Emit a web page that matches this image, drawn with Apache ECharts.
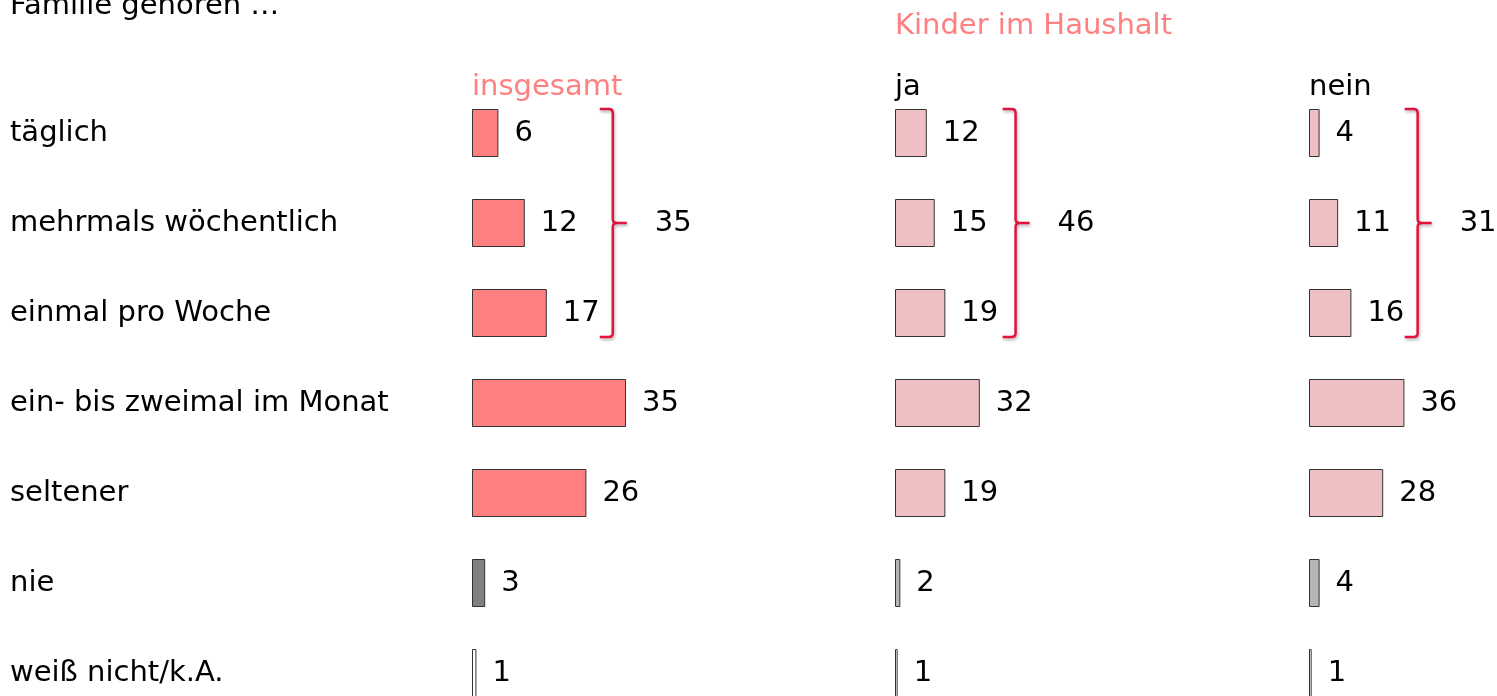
<!DOCTYPE html>
<html>
<head>
<meta charset="utf-8">
<script src="https://cdn.jsdelivr.net/npm/echarts@6/dist/echarts.min.js"></script>
<style>
  html, body { margin: 0; padding: 0; background: #fff; }
  #main { width: 1497px; height: 696px; }
</style>
</head>
<body>
<div id="main"></div>
<script>
// Daten
const categories = ['täglich', 'mehrmals wöchentlich', 'einmal pro Woche', 'ein- bis zweimal im Monat', 'seltener', 'nie', 'weiß nicht/k.A.'];
const insgesamt = [6, 12, 17, 35, 26, 3, 1];
const kinderJa = [12, 15, 19, 32, 19, 2, 1];
const kinderNein = [4, 11, 16, 36, 28, 4, 1];
const panelTitles = ['insgesamt', 'ja', 'nein'];
const bracketSums = [35, 46, 31];

const FONT = 'DejaVu Sans';
const FS = 29;
const RED = '#E2123C';

// Layout der drei Spalten
const panels = [
  { data: insgesamt, left: 472, width: 440, main: '#FF8080', nie: '#808080', head: '#FF8080', bx: 32 },
  { data: kinderJa, left: 895, width: 265, main: '#EFC0C3', nie: '#B5B5B5', head: '#000', bx: 45.5 },
  { data: kinderNein, left: 1309, width: 265, main: '#EFC0C3', nie: '#B5B5B5', head: '#000', bx: 41 }
];

const grids = [], xAxes = [], yAxes = [], series = [], graphics = [];

panels.forEach((p, i) => {
  grids.push({ left: p.left, width: p.width, top: 88, height: 630, containLabel: false, outerBoundsMode: 'none' });
  xAxes.push({ gridIndex: i, type: 'value', min: 0, max: 100, show: false });
  yAxes.push({
    gridIndex: i, type: 'category', data: categories, inverse: true,
    axisLine: { show: false }, axisTick: { show: false }, splitLine: { show: false },
    axisLabel: {
      show: i === 0, align: 'left', margin: p.left - 10,
      fontFamily: FONT, fontSize: FS, color: '#000'
    }
  });

  // Balken
  series.push({
    type: 'bar', xAxisIndex: i, yAxisIndex: i, barWidth: 48,
    data: p.data.map((v, k) => ({
      value: v,
      itemStyle: {
        color: k === 6 ? '#fff' : (k === 5 ? p.nie : p.main),
        borderColor: '#333', borderWidth: 1
      }
    })),
    label: { show: true, position: 'right', distance: 16, fontFamily: FONT, fontSize: FS, color: '#000' },
    animation: false
  });

  // Klammer über die ersten drei Kategorien
  series.push({
    type: 'custom', xAxisIndex: i, yAxisIndex: i,
    data: [[p.bx, 0, 2, bracketSums[i]]],
    renderItem: function (params, api) {
      const half = 24;
      const t = api.coord([api.value(0), api.value(1)]);
      const m = api.coord([api.value(0), 1]);
      const b = api.coord([api.value(0), api.value(2)]);
      const x = t[0], top = t[1] - half, bot = b[1] + half, mid = m[1];
      const r = 4;
      const d = 'M' + (x - 13) + ' ' + top + ' L' + (x - r) + ' ' + top +
        ' Q' + x + ' ' + top + ' ' + x + ' ' + (top + r) +
        ' L' + x + ' ' + (mid - r) + ' Q' + x + ' ' + mid + ' ' + (x + r) + ' ' + mid +
        ' L' + (x + 14) + ' ' + mid +
        ' M' + (x + r) + ' ' + mid + ' Q' + x + ' ' + mid + ' ' + x + ' ' + (mid + r) +
        ' L' + x + ' ' + (bot - r) + ' Q' + x + ' ' + bot + ' ' + (x - r) + ' ' + bot +
        ' L' + (x - 13) + ' ' + bot;
      return {
        type: 'group',
        children: [
          {
            type: 'path', shape: { pathData: d },
            style: {
              fill: null, stroke: RED, lineWidth: 2.5,
              shadowBlur: 3, shadowOffsetX: 1, shadowOffsetY: 2, shadowColor: 'rgba(0,0,0,0.3)'
            }
          },
          {
            type: 'text', x: x + 42, y: mid,
            style: { text: String(api.value(3)), font: FS + 'px "' + FONT + '"', fill: '#000', verticalAlign: 'middle', align: 'left' }
          }
        ]
      };
    },
    animation: false
  });

  graphics.push({
    type: 'text', left: p.left, top: 73,
    style: { text: panelTitles[i], font: FS + 'px "' + FONT + '"', fill: p.head }
  });
});

graphics.push({
  type: 'text', left: 10, top: -8,
  style: { text: 'Familie gehören …', font: FS + 'px "' + FONT + '"', fill: '#000' }
});
graphics.push({
  type: 'text', left: panels[1].left, top: 12,
  style: { text: 'Kinder im Haushalt', font: FS + 'px "' + FONT + '"', fill: '#FF8080' }
});

const chart = echarts.init(document.getElementById('main'));
chart.setOption({
  backgroundColor: '#fff',
  animation: false,
  grid: grids,
  xAxis: xAxes,
  yAxis: yAxes,
  series: series,
  graphic: graphics
});
</script>
</body>
</html>
